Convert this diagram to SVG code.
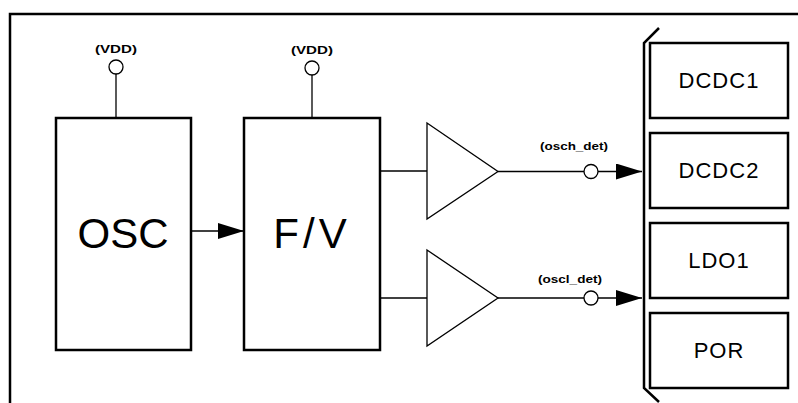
<svg xmlns="http://www.w3.org/2000/svg" width="798" height="403" viewBox="0 0 798 403">
<style>
.box{fill:#fff;stroke:#000;stroke-width:2.5}
.ln{fill:none;stroke:#000;stroke-width:1.3}
.big{font-family:"Liberation Sans",Arial,sans-serif;font-size:42px;text-anchor:middle}
.mid{font-family:"Liberation Sans",Arial,sans-serif;font-size:22px;text-anchor:middle;letter-spacing:1px}
.sm{font-family:"Liberation Sans",Arial,sans-serif;font-size:11.5px;font-weight:bold;text-anchor:middle}
.pin{fill:#fff;stroke:#000;stroke-width:1.3}
</style>
<defs>
<marker id="ah" markerWidth="26" markerHeight="16" refX="26" refY="8" orient="auto" markerUnits="userSpaceOnUse">
<path d="M0,0 L26,8 L0,16 Z" fill="#000"/>
</marker>
</defs>
<rect width="798" height="403" fill="#fff"/>
<g id="frame">
<path d="M10,403 V14 H798" fill="none" stroke="#000" stroke-width="2.5"/>
</g>
<g id="bracket">
<path d="M659,28 L644,43 V388 L659,402" fill="none" stroke="#000" stroke-width="2.5"/>
</g>
<g id="connectors">
<line class="ln" x1="116" y1="74" x2="116" y2="118"/>
<line class="ln" x1="312" y1="75" x2="312" y2="118"/>
<line class="ln" x1="191" y1="231" x2="244" y2="231" marker-end="url(#ah)"/>
<line class="ln" x1="380" y1="171" x2="427" y2="171"/>
<line class="ln" x1="380" y1="298" x2="427" y2="298"/>
<line class="ln" x1="498" y1="171.5" x2="584" y2="171.5"/>
<line class="ln" x1="598" y1="171.5" x2="642" y2="171.5" marker-end="url(#ah)"/>
<line class="ln" x1="498" y1="298" x2="584" y2="298"/>
<line class="ln" x1="598" y1="298" x2="642" y2="298" marker-end="url(#ah)"/>
</g>
<g id="vdd1">
<circle class="pin" cx="116" cy="67" r="7"/>
<text class="sm" x="116" y="53" textLength="42" lengthAdjust="spacingAndGlyphs">(VDD)</text>
</g>
<g id="vdd2">
<circle class="pin" cx="312" cy="68" r="7"/>
<text class="sm" x="312" y="54" textLength="42" lengthAdjust="spacingAndGlyphs">(VDD)</text>
</g>
<g id="osc">
<rect class="box" x="56" y="118" width="135" height="232"/>
<text class="big" x="123" y="248">OSC</text>
</g>
<g id="fv">
<rect class="box" x="244" y="118" width="136" height="232"/>
<text class="big" x="312" y="248" letter-spacing="4">F/V</text>
</g>
<g id="amp1">
<path class="ln" d="M427,123 L498,171.5 L427,219 Z" fill="#fff"/>
</g>
<g id="amp2">
<path class="ln" d="M427,250 L498,298 L427,346 Z" fill="#fff"/>
</g>
<g id="osch_det">
<circle class="pin" cx="591" cy="171.5" r="7"/>
<text class="sm" x="574" y="150" textLength="68" lengthAdjust="spacingAndGlyphs">(osch_det)</text>
</g>
<g id="oscl_det">
<circle class="pin" cx="591" cy="298" r="7"/>
<text class="sm" x="570" y="283" textLength="64" lengthAdjust="spacingAndGlyphs">(oscl_det)</text>
</g>
<g id="dcdc1">
<rect class="box" x="650" y="43" width="138" height="75"/>
<text class="mid" x="719" y="88">DCDC1</text>
</g>
<g id="dcdc2">
<rect class="box" x="650" y="133" width="138" height="75"/>
<text class="mid" x="719" y="178">DCDC2</text>
</g>
<g id="ldo1">
<rect class="box" x="650" y="223" width="138" height="75"/>
<text class="mid" x="719" y="268">LDO1</text>
</g>
<g id="por">
<rect class="box" x="650" y="313" width="138" height="75"/>
<text class="mid" x="719" y="358">POR</text>
</g>
</svg>
